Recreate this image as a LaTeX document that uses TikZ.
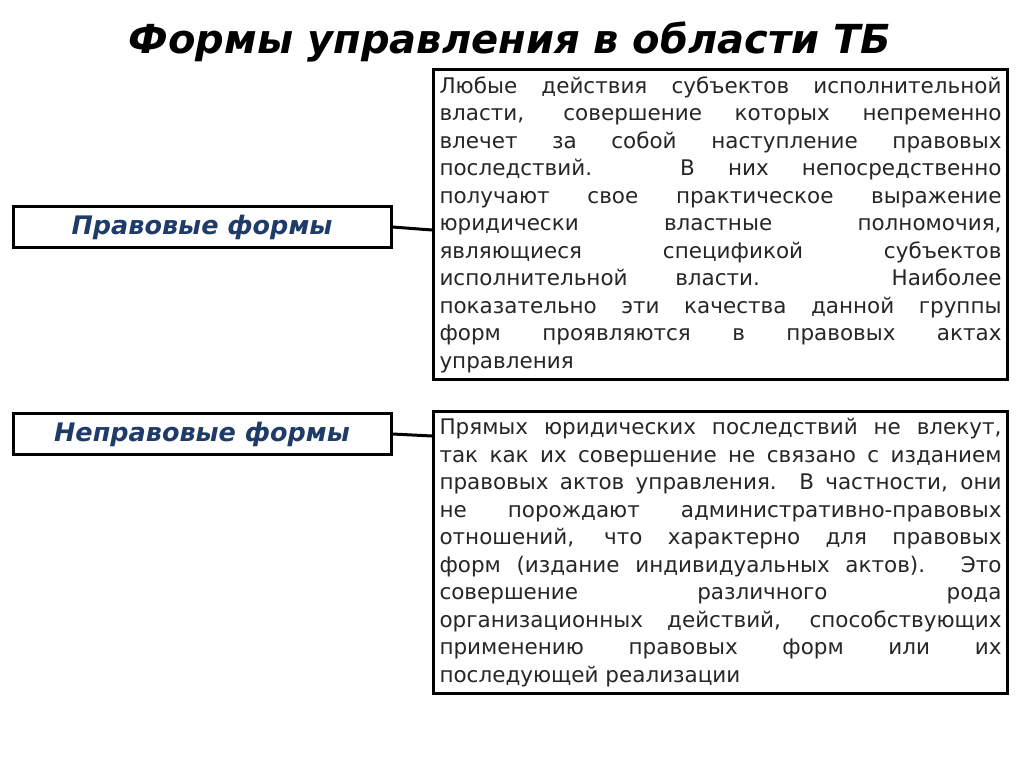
\documentclass[tikz,border=0pt]{standalone}
\usepackage{fontspec}
\setmainfont{DejaVu Sans}
\definecolor{lblue}{HTML}{1F3B68}
\begin{document}
\begin{tikzpicture}[x=1pt,y=-1pt,
  lbox/.style={draw=black,line width=3pt,minimum width=378pt,minimum height=41pt,inner sep=0pt,font=\fontsize{25.5}{28}\selectfont\bfseries\itshape,text=lblue},
  tbox/.style={draw=black,line width=3pt,anchor=north west,inner xsep=6pt,inner ysep=7pt,text width=562pt,align=justify,font=\fontsize{21.5}{27.5}\selectfont,text=black!85},
  conn/.style={line width=3pt}]
\useasboundingbox (0,0) rectangle (1024,767);
\node[font=\fontsize{40}{44}\selectfont\bfseries\itshape] (title) at (510,42) {Формы управления в области ТБ};
\node[lbox] (l1) at (202,227) {Правовые формы};
\node[lbox] (l2) at (202,434) {Неправовые формы};
\node[tbox] (t1) at (432,68) {Любые действия субъектов исполнительной\linebreak власти, совершение которых непременно\linebreak влечет за собой наступление правовых\linebreak последствий. В них непосредственно\linebreak получают свое практическое выражение\linebreak юридически властные полномочия,\linebreak являющиеся спецификой субъектов\linebreak исполнительной власти. Наиболее\linebreak показательно эти качества данной группы\linebreak форм проявляются в правовых актах\linebreak управления};
\node[tbox] (t2) at (432,410) {Прямых юридических последствий не влекут,\linebreak так как их совершение не связано с изданием\linebreak правовых актов управления. В частности, они\linebreak не порождают административно-правовых\linebreak отношений, что характерно для правовых\linebreak форм (издание индивидуальных актов). Это\linebreak совершение различного рода\linebreak организационных действий, способствующих\linebreak применению правовых форм или их\linebreak последующей реализации};
\draw[conn] (l1.east) -- ([yshift=-3pt]t1.west |- l1.east);
\draw[conn] (l2.east) -- ([yshift=-2pt]t2.west |- l2.east);
\end{tikzpicture}
\end{document}
